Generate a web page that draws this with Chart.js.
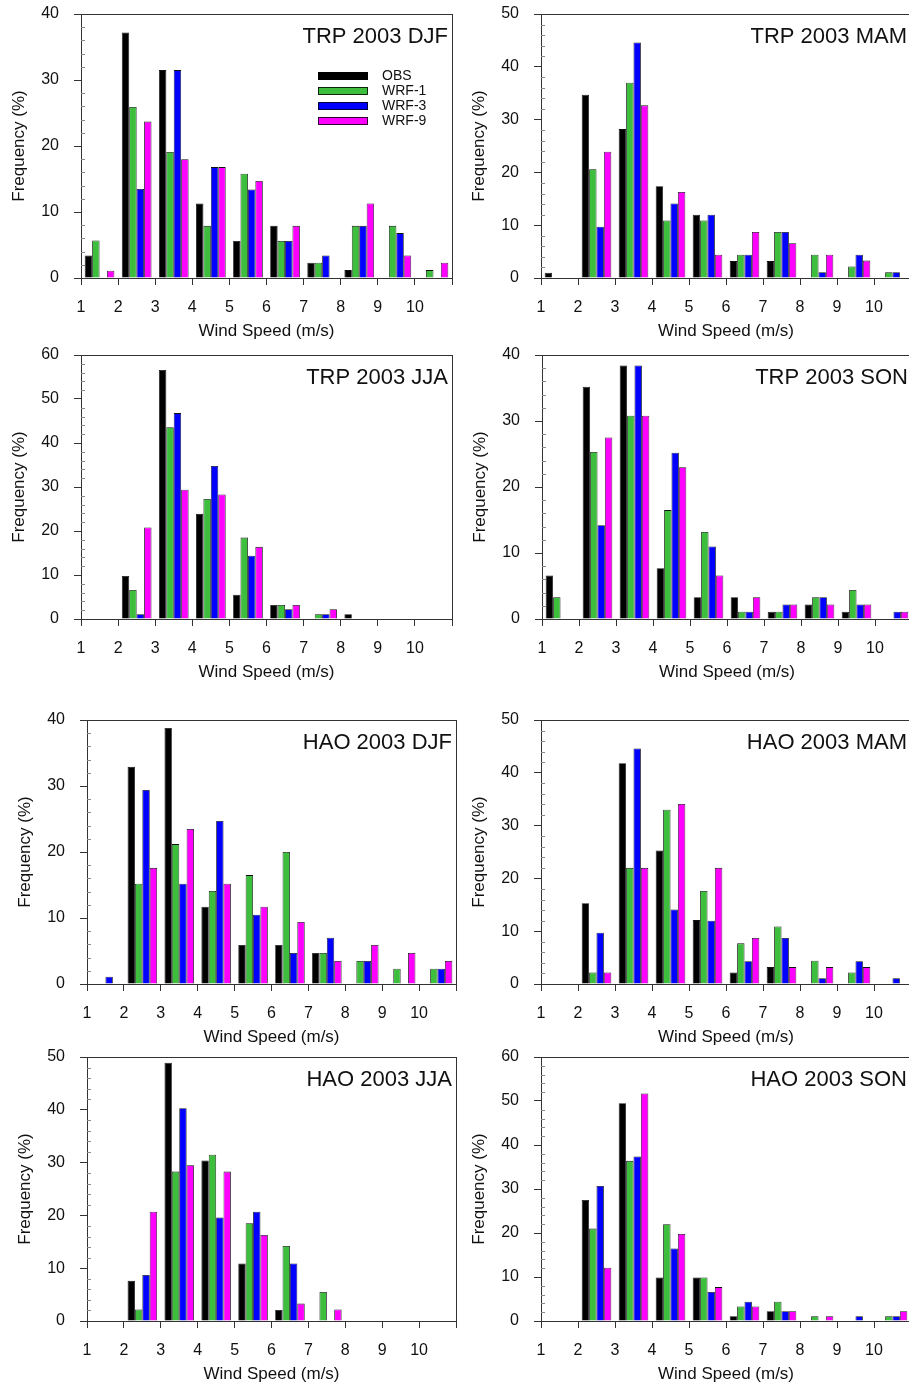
<!DOCTYPE html>
<html><head><meta charset="utf-8">
<script src="https://cdn.jsdelivr.net/npm/chart.js@4.4.1/dist/chart.umd.min.js"></script>
<style>
html,body{margin:0;padding:0;background:#fff;overflow:hidden;width:909px;height:1389px;position:relative;}
canvas{position:absolute;}
</style></head><body>
<script>
// ---- data ----
const windBins = [1.5, 2.5, 3.5, 4.5, 5.5, 6.5, 7.5, 8.5, 9.5, 10.5]; // bin centres (m/s)
const xTickLabels = ['1','2','3','4','5','6','7','8','9','10'];
const seriesNames = ['OBS', 'WRF-1', 'WRF-3', 'WRF-9'];
const seriesColors = ['#000000', '#3dbf3d', '#0000ff', '#ff00ff'];

const trpDJF_OBS  = [3.4, 37.2, 31.5, 11.3, 5.6, 7.9, 2.3, 1.2, 0, 0];
const trpDJF_WRF1 = [5.7, 25.9, 19.1, 7.9, 15.8, 5.6, 2.3, 7.9, 7.9, 1.2];
const trpDJF_WRF3 = [0, 13.5, 31.5, 16.8, 13.4, 5.6, 3.4, 7.9, 6.8, 0];
const trpDJF_WRF9 = [1.1, 23.7, 18.0, 16.8, 14.7, 7.9, 0, 11.3, 3.4, 2.3];

const trpMAM_OBS  = [1.0, 34.7, 28.2, 17.4, 12.0, 3.2, 3.2, 0, 0, 0];
const trpMAM_WRF1 = [0, 20.6, 37.0, 10.9, 10.9, 4.4, 8.7, 4.4, 2.2, 1.1];
const trpMAM_WRF3 = [0, 9.7, 44.6, 14.1, 12.0, 4.4, 8.7, 1.1, 4.4, 1.1];
const trpMAM_WRF9 = [0, 23.9, 32.7, 16.3, 4.4, 8.7, 6.6, 4.4, 3.3, 0];

const trpJJA_OBS  = [0, 9.8, 56.6, 23.9, 5.5, 3.2, 0, 1.1, 0, 0];
const trpJJA_WRF1 = [0, 6.6, 43.6, 27.3, 18.5, 3.2, 1.1, 0, 0, 0];
const trpJJA_WRF3 = [0, 1.1, 46.8, 34.8, 14.4, 2.2, 1.1, 0, 0, 0];
const trpJJA_WRF9 = [0, 20.8, 29.4, 28.3, 16.4, 3.2, 2.2, 0, 0, 0];

const trpSON_OBS  = [6.6, 35.2, 38.4, 7.7, 3.3, 3.3, 1.1, 2.2, 1.1, 0];
const trpSON_WRF1 = [3.3, 25.3, 30.8, 16.5, 13.2, 1.1, 1.1, 3.3, 4.4, 0];
const trpSON_WRF3 = [0, 14.2, 38.4, 25.2, 11.0, 1.1, 2.2, 3.3, 2.2, 1.1];
const trpSON_WRF9 = [0, 27.5, 30.8, 23.0, 6.6, 3.3, 2.2, 2.2, 2.2, 1.1];

const haoDJF_OBS  = [0, 32.9, 38.8, 11.7, 5.9, 5.9, 4.7, 0, 0, 0];
const haoDJF_WRF1 = [0, 15.2, 21.2, 14.1, 16.5, 20.0, 4.7, 3.5, 2.3, 2.3];
const haoDJF_WRF3 = [1.1, 29.4, 15.2, 24.7, 10.5, 4.7, 7.0, 3.5, 0, 2.3];
const haoDJF_WRF9 = [0, 17.6, 23.5, 15.2, 11.7, 9.4, 3.5, 5.9, 4.7, 3.5];

const haoMAM_OBS  = [0, 15.3, 41.8, 25.3, 12.1, 2.2, 3.2, 0, 0, 0];
const haoMAM_WRF1 = [0, 2.2, 22.0, 33.0, 17.6, 7.7, 10.9, 4.4, 2.2, 0];
const haoMAM_WRF3 = [0, 9.7, 44.6, 14.1, 12.0, 4.3, 8.7, 1.1, 4.3, 1.1];
const haoMAM_WRF9 = [0, 2.2, 22.0, 34.1, 22.0, 8.7, 3.2, 3.2, 3.2, 0];

const haoJJA_OBS  = [0, 7.6, 48.9, 30.4, 10.9, 2.1, 0, 0, 0, 0];
const haoJJA_WRF1 = [0, 2.2, 28.3, 31.5, 18.5, 14.2, 5.5, 0, 0, 0];
const haoJJA_WRF3 = [0, 8.7, 40.3, 19.6, 20.7, 10.9, 0, 0, 0, 0];
const haoJJA_WRF9 = [0, 20.7, 29.5, 28.3, 16.3, 3.3, 2.2, 0, 0, 0];

const haoSON_OBS  = [0, 27.5, 49.5, 9.9, 9.9, 1.1, 2.2, 0, 0, 0];
const haoSON_WRF1 = [0, 21.0, 36.4, 22.0, 9.9, 3.3, 4.4, 1.1, 0, 1.1];
const haoSON_WRF3 = [0, 30.7, 37.4, 16.5, 6.6, 4.4, 2.2, 0, 1.1, 1.1];
const haoSON_WRF9 = [0, 12.1, 51.7, 19.8, 7.7, 3.3, 2.2, 1.1, 0, 2.2];

// ---- layout ----
const FONT = "'Liberation Sans', Arial, Helvetica, sans-serif";
const panels = [
  {title:'TRP 2003 DJF', yMax:40, series:[trpDJF_OBS,trpDJF_WRF1,trpDJF_WRF3,trpDJF_WRF9], cx:0,   cy:0,    w:455, legend:true},
  {title:'TRP 2003 MAM', yMax:50, series:[trpMAM_OBS,trpMAM_WRF1,trpMAM_WRF3,trpMAM_WRF9], cx:460, cy:0,    w:454},
  {title:'TRP 2003 JJA', yMax:60, series:[trpJJA_OBS,trpJJA_WRF1,trpJJA_WRF3,trpJJA_WRF9], cx:0,   cy:341,  w:455},
  {title:'TRP 2003 SON', yMax:40, series:[trpSON_OBS,trpSON_WRF1,trpSON_WRF3,trpSON_WRF9], cx:461, cy:341,  w:454},
  {title:'HAO 2003 DJF', yMax:40, series:[haoDJF_OBS,haoDJF_WRF1,haoDJF_WRF3,haoDJF_WRF9], cx:6,   cy:706,  w:453},
  {title:'HAO 2003 MAM', yMax:50, series:[haoMAM_OBS,haoMAM_WRF1,haoMAM_WRF3,haoMAM_WRF9], cx:460, cy:706,  w:454},
  {title:'HAO 2003 JJA', yMax:50, series:[haoJJA_OBS,haoJJA_WRF1,haoJJA_WRF3,haoJJA_WRF9], cx:6,   cy:1043, w:453},
  {title:'HAO 2003 SON', yMax:60, series:[haoSON_OBS,haoSON_WRF1,haoSON_WRF3,haoSON_WRF9], cx:460, cy:1043, w:454}
];
const H = 344;

const framePlugin = {
  id: 'frame',
  afterDraw(chart) {
    const {ctx, chartArea: ca} = chart;
    const p = chart.options.plugins.frame;
    ctx.save();
    // box
    ctx.strokeStyle = '#333'; ctx.lineWidth = 1;
    ctx.strokeRect(Math.round(ca.left) + 0.5, Math.round(ca.top) + 0.5, Math.round(ca.right - ca.left), Math.round(ca.bottom - ca.top));
    // minor ticks on y axis (inside)
    const ys = chart.scales.y;
    ctx.strokeStyle = '#888';
    for (let v = 0; v <= ys.max; v += 2) {
      if (v % 10 === 0) continue;
      const y = Math.round(ys.getPixelForValue(v)) + 0.5;
      ctx.beginPath(); ctx.moveTo(ca.left, y); ctx.lineTo(ca.left + 4, y); ctx.stroke();
    }
    // panel title
    ctx.fillStyle = '#111';
    ctx.font = '22px ' + FONT;
    ctx.textAlign = 'right'; ctx.textBaseline = 'middle';
    ctx.fillText(p.title, ca.right - 4, ca.top + 23);
    // legend
    if (p.legend) {
      const x0 = ca.right - 134, y0 = ca.top + 58;
      ctx.font = '14px ' + FONT;
      ctx.textAlign = 'left';
      chart.data.datasets.forEach((ds, i) => {
        const y = y0 + i * 15;
        ctx.fillStyle = ds.backgroundColor;
        ctx.fillRect(x0, y, 50, 8);
        ctx.strokeStyle = '#000'; ctx.lineWidth = 0.8;
        ctx.strokeRect(x0 + 0.5, y + 0.5, 49, 7);
        ctx.fillStyle = '#111';
        ctx.fillText(ds.label, x0 + 64, y + 4);
      });
    }
    ctx.restore();
  }
};

panels.forEach(p => {
  const canvas = document.createElement('canvas');
  canvas.width = p.w; canvas.height = H;
  canvas.style.left = p.cx + 'px'; canvas.style.top = p.cy + 'px';
  canvas.style.width = p.w + 'px'; canvas.style.height = H + 'px';
  document.body.appendChild(canvas);
  new Chart(canvas, {
    type: 'bar',
    data: {
      datasets: p.series.map((arr, i) => ({
        label: seriesNames[i],
        data: windBins.map((x, j) => ({x: x, y: arr[j]})),
        backgroundColor: seriesColors[i],
        borderColor: '#111',
        borderWidth: c => (c.raw && c.raw.y > 0) ? 0.8 : 0,
        categoryPercentage: 0.8,
        barPercentage: 1.0
      }))
    },
    options: {
      responsive: false, animation: false, devicePixelRatio: 1,
      layout: {padding: {top: 14, right: 3, left: 0, bottom: 0}},
      plugins: {legend: {display: false}, tooltip: {enabled: false}, frame: {title: p.title, legend: !!p.legend}},
      scales: {
        x: {
          type: 'linear', min: 1, max: 11, offset: false,
          ticks: {stepSize: 1, autoSkip: false, maxRotation: 0, padding: 13,
            callback: v => (v >= 1 && v <= 10) ? xTickLabels[v - 1] : '',
            font: {family: FONT, size: 16}, color: '#111'},
          grid: {drawOnChartArea: false, drawTicks: true, tickLength: 7, offset: false, color: '#333', tickColor: '#333'},
          border: {display: true, color: '#333', width: 1},
          title: {display: true, text: 'Wind Speed (m/s)', font: {family: FONT, size: 17}, color: '#111', padding: {top: 0, bottom: 2}},
          afterFit: s => { s.height = 66; s.paddingLeft = 0; s.paddingRight = 0; }
        },
        y: {
          min: 0, max: p.yMax,
          ticks: {stepSize: 10, padding: 15, font: {family: FONT, size: 16}, color: '#111'},
          grid: {drawOnChartArea: false, drawTicks: true, tickLength: 7, color: '#333', tickColor: '#333'},
          border: {display: true, color: '#333', width: 1},
          title: {display: true, text: 'Frequency (%)', font: {family: FONT, size: 17}, color: '#111', padding: {top: 9, bottom: 0}},
          afterFit: s => { s.width = 81; s.paddingTop = 0; s.paddingBottom = 0; }
        }
      }
    },
    plugins: [framePlugin]
  });
});
</script>
</body></html>
